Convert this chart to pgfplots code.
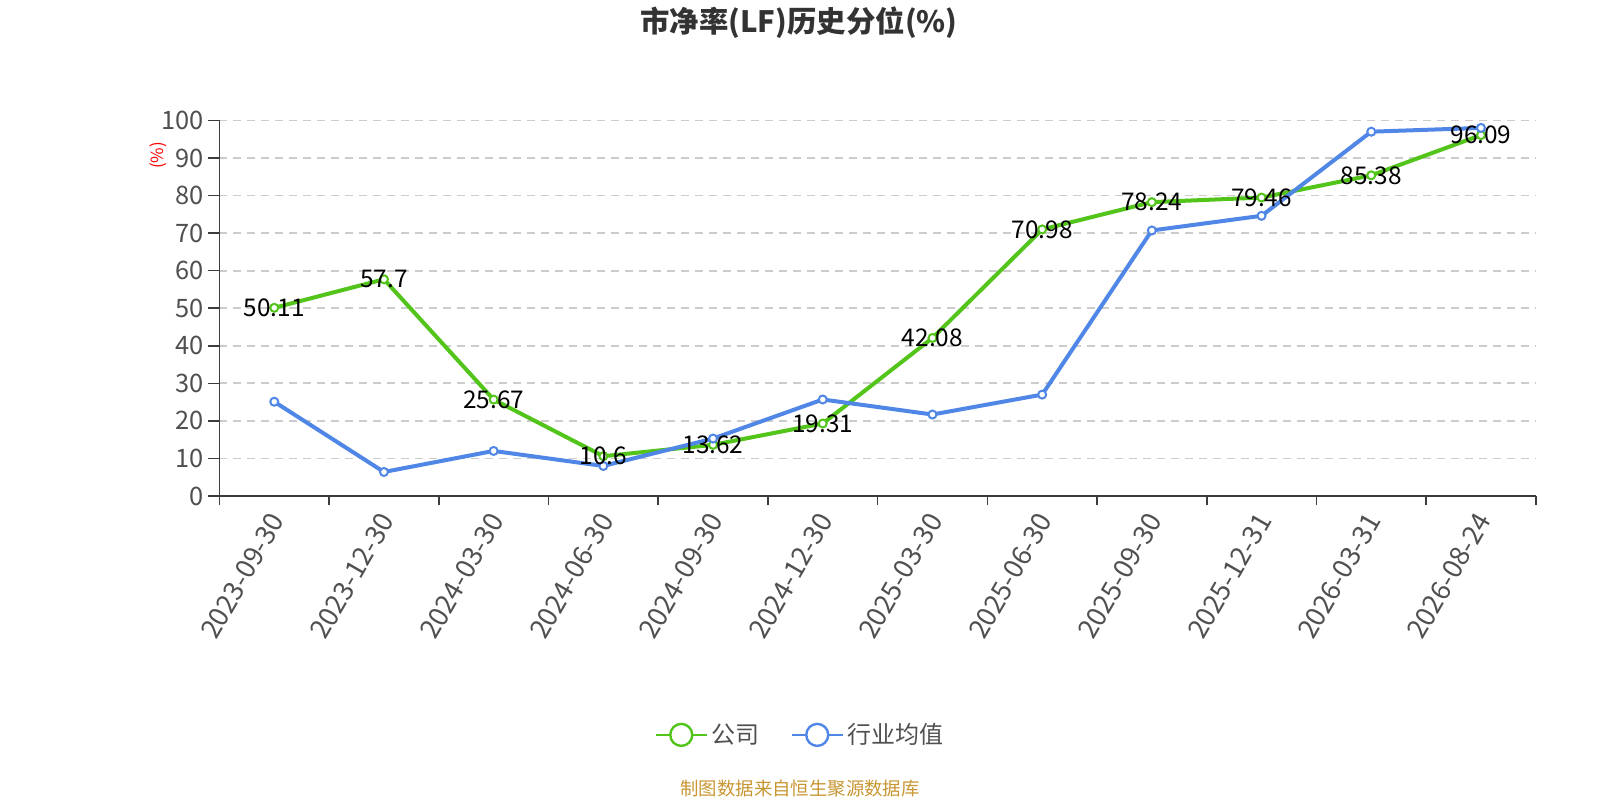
\documentclass[border=0pt]{standalone}
\usepackage{fontspec}
\setmainfont{Noto Sans CJK SC}
\usepackage{pgfplots}
\pgfplotsset{compat=1.18}
\definecolor{cgreen}{RGB}{82,196,26}
\definecolor{cblue}{RGB}{80,135,230}
\definecolor{ticktext}{RGB}{80,80,80}
\definecolor{gridc}{RGB}{204,204,204}
\definecolor{footc}{RGB}{200,150,50}
\definecolor{titlec}{RGB}{51,51,51}
\definecolor{axisc}{RGB}{60,60,60}

\begin{document}
\begin{tikzpicture}
\path[use as bounding box] (0pt,0pt) rectangle (800pt,-400pt);
\node[font=\bfseries\fontsize{14.7}{16}\selectfont, text=titlec] at (399.5pt,-11.2pt) {市净率(LF)历史分位(\%)};
\node[font=\fontsize{9.2}{11}\selectfont, text=footc] at (400pt,-394.5pt) {制图数据来自恒生聚源数据库};
\begin{axis}[
  at={(109.7pt,-248pt)}, anchor=south west,
  scale only axis, width=658.2pt, height=187.8pt,
  clip=false,
  xmin=-0.5, xmax=11.5, ymin=0, ymax=100,
  axis x line*=bottom, axis y line*=left,
  axis line style={-, draw=axisc, line width=0.8pt},
  tick align=outside,
  xtick={0,...,11},
  xticklabels={2023-09-30,2023-12-30,2024-03-30,2024-06-30,2024-09-30,2024-12-30,2025-03-30,2025-06-30,2025-09-30,2025-12-31,2026-03-31,2026-08-24},
  minor xtick={-0.5,0.5,...,11.5},
  major x tick style={draw=none},
  minor x tick style={draw=axisc, line width=0.8pt},
  minor tick length=4.5pt,
  major tick length=5.5pt,
  ytick={0,10,...,100},
  y tick style={draw=axisc, line width=0.8pt},
  /pgf/number format/assume math mode=true,
  tick label style={text=ticktext},
  yticklabel style={font=\fontsize{12.7}{14}\selectfont, xshift=1pt},
  xticklabel style={rotate=60, anchor=east, font=\fontsize{13.5}{15}\selectfont, xshift=0.3pt, yshift=-3.5pt},
  ymajorgrids,
  grid style={dash pattern=on 4pt off 3pt, gridc, line width=0.9pt},
  legend style={at={(0.442,-0.636)}, anchor=center, draw=none, fill=none,
    legend columns=2, font=\fontsize{12}{14}\selectfont, text=ticktext,
    /tikz/every even column/.append style={column sep=13.5pt}},
  legend cell align=left,
]
\addplot[cgreen, line width=2pt, mark=*, mark size=2pt,
  mark options={fill=white, line width=1pt},
  legend image code/.code={\draw[cgreen, line width=1pt] (0pt,0pt)--(25.5pt,0pt); \draw[cgreen, line width=1.2pt, fill=white] (12.75pt,0pt) circle (5.5pt);}]
  coordinates {(0,50.11) (1,57.7) (2,25.67) (3,10.6) (4,13.62) (5,19.31) (6,42.08) (7,70.98) (8,78.24) (9,79.46) (10,85.38) (11,96.09)};
\addlegendentry{公司}
\addplot[cblue, line width=2pt, mark=*, mark size=2pt,
  mark options={fill=white, line width=1pt},
  legend image code/.code={\draw[cblue, line width=1pt] (0pt,0pt)--(25.5pt,0pt); \draw[cblue, line width=1.2pt, fill=white] (12.75pt,0pt) circle (5.5pt);}]
  coordinates {(0,25.1) (1,6.4) (2,12.0) (3,8.0) (4,15.3) (5,25.7) (6,21.7) (7,27.0) (8,70.7) (9,74.6) (10,97.0) (11,98.0)};
\addlegendentry{行业均值}
\addplot[draw=none, mark=none, forget plot, nodes near coords,
  every node near coord/.append style={anchor=center, text=black, font=\fontsize{12.2}{14}\selectfont}]
  coordinates {(0,50.11) (1,57.7) (2,25.67) (3,10.6) (4,13.62) (5,19.31) (6,42.08) (7,70.98) (8,78.24) (9,79.46) (10,85.38) (11,96.09)};
\node[rotate=90, text=red, font=\fontsize{8.4}{10}\selectfont] at (rel axis cs:-0.0466,0.9065) {(\%)};
\end{axis}
\end{tikzpicture}
\end{document}
